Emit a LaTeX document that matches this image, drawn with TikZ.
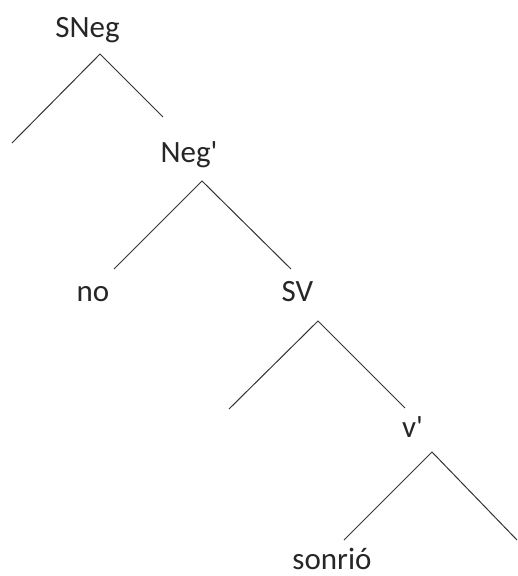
\documentclass[tikz,border=0pt]{standalone}
\usepackage{fontspec}
\setmainfont{Carlito}[Ligatures=TeXOff]
\begin{document}
\begin{tikzpicture}[x=1pt,y=-1pt,
  lbl/.style={anchor=base,inner sep=0pt,font=\fontsize{31}{36}\selectfont,text=black!85},
  br/.style={draw=black!80,line width=1pt}]
\useasboundingbox (0,0) rectangle (518,576);
\node[lbl] (sneg) at (87.5,37) {SNeg};
\node[lbl] (negb) at (189,162) {Neg'};
\node[lbl] (no) at (93,301) {no};
\node[lbl] (sv) at (297.5,301) {SV};
\node[lbl] (vb) at (412.5,437) {v'};
\node[lbl] (sonrio) at (332,569) {sonrió};
\coordinate (a1) at (100,54);
\coordinate (l1) at (12,143);
\coordinate (r1) at (163,117);
\coordinate (a2) at (202,181);
\coordinate (l2) at (114,269);
\coordinate (r2) at (291,269);
\coordinate (a3) at (318,321);
\coordinate (l3) at (229,409);
\coordinate (r3) at (405,408);
\coordinate (a4) at (432,452);
\coordinate (l4) at (344,540);
\coordinate (r4) at (517,540);
\draw[br] (l1) -- (a1) -- (r1);
\draw[br] (l2) -- (a2) -- (r2);
\draw[br] (l3) -- (a3) -- (r3);
\draw[br] (l4) -- (a4) -- (r4);
\end{tikzpicture}
\end{document}
